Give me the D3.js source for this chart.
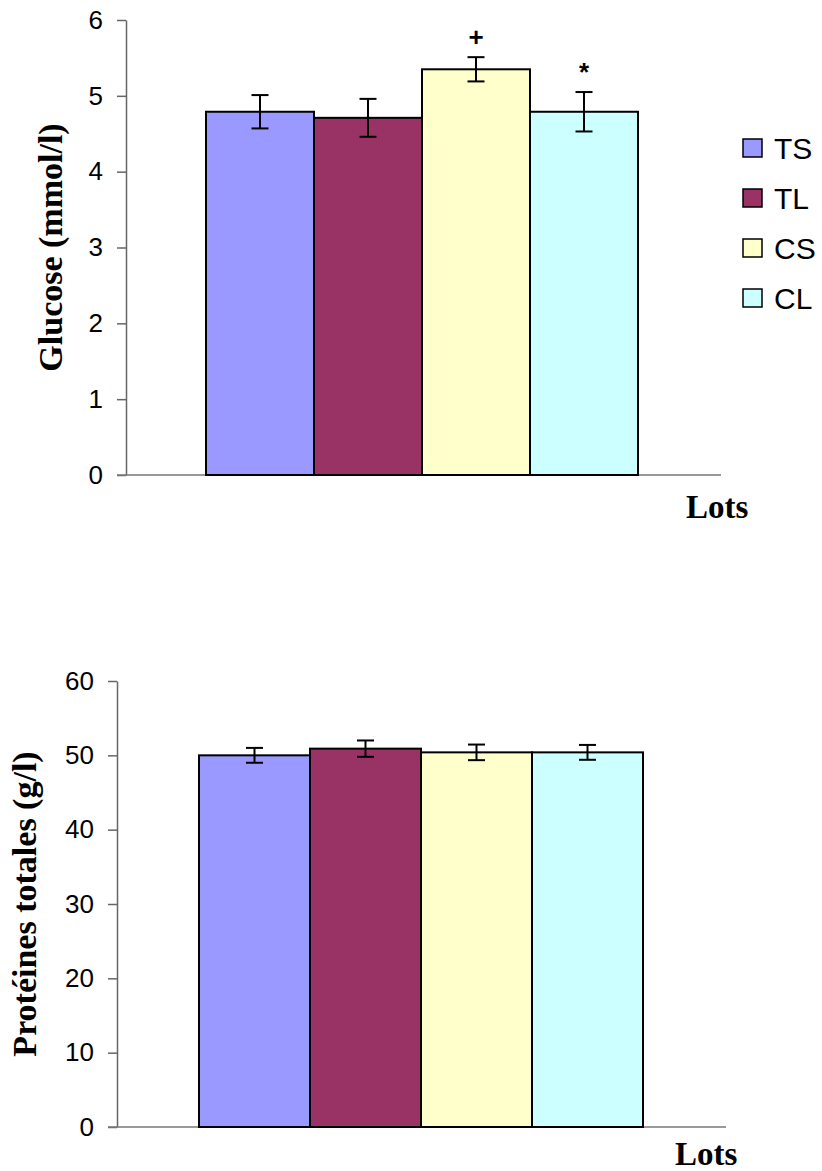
<!DOCTYPE html>
<html>
<head>
<meta charset="utf-8">
<script src="https://cdn.jsdelivr.net/npm/d3@7"></script>
<style>
  html, body { margin: 0; padding: 0; background: #fff; }
  .tick text { font-family: "Liberation Sans", Arial, sans-serif; }
</style>
</head>
<body>
<div id="chart"></div>
<script>
const lots = ["TS", "TL", "CS", "CL"];
const lotColors = ["#9999ff", "#993366", "#ffffcc", "#ccffff"];

const glucose = [4.79, 4.71, 5.35, 4.79];
const glucoseErr = [0.22, 0.25, 0.16, 0.26];
const glucoseSig = ["", "", "+", "*"];
const glucoseTicks = [0, 1, 2, 3, 4, 5, 6];

const proteins = [50.0, 50.9, 50.4, 50.4];
const proteinsErr = [1.0, 1.1, 1.05, 1.0];
const proteinsTicks = [0, 10, 20, 30, 40, 50, 60];

const svg = d3.select("#chart").append("svg")
    .attr("width", 822)
    .attr("height", 1171);

function drawChart(opt) {
    const g = svg.append("g");

    const x = d3.scaleBand()
        .domain(lots)
        .range([opt.barLeft, opt.barRight])
        .padding(0);

    const y = d3.scaleLinear()
        .domain([0, opt.max])
        .range([opt.bottom, opt.top]);

    // y axis
    const yAxis = g.append("g")
        .attr("transform", "translate(" + opt.left + ",0)")
        .call(d3.axisLeft(y).tickValues(opt.ticks).tickFormat(d3.format("d"))
            .tickSize(9).tickPadding(14).tickSizeOuter(0));
    yAxis.select(".domain").attr("stroke", "#666").attr("stroke-width", 1.5);
    yAxis.selectAll(".tick line").attr("stroke", "#666").attr("stroke-width", 1.5);
    yAxis.selectAll(".tick text")
        .attr("font-size", 26)
        .attr("fill", "#000");

    // x axis line
    g.append("line")
        .attr("x1", opt.left - 9)
        .attr("x2", opt.right)
        .attr("y1", y(0))
        .attr("y2", y(0))
        .attr("stroke", "#777")
        .attr("stroke-width", 1.5);

    // bars
    g.selectAll(".bar")
        .data(opt.values)
        .enter().append("rect")
        .attr("class", "bar")
        .attr("x", (d, i) => x(lots[i]))
        .attr("y", d => y(d))
        .attr("width", x.bandwidth())
        .attr("height", d => y(0) - y(d))
        .attr("fill", (d, i) => lotColors[i])
        .attr("stroke", "#000")
        .attr("stroke-width", 2);

    // error bars
    const eb = g.selectAll(".err")
        .data(opt.values)
        .enter().append("g")
        .attr("class", "err")
        .attr("stroke", "#000")
        .attr("stroke-width", 2);
    const cx = (i) => x(lots[i]) + x.bandwidth() / 2;
    eb.append("line")
        .attr("x1", (d, i) => cx(i)).attr("x2", (d, i) => cx(i))
        .attr("y1", (d, i) => y(d + opt.err[i]))
        .attr("y2", (d, i) => y(d - opt.err[i]));
    eb.append("line")
        .attr("x1", (d, i) => cx(i) - 8.5).attr("x2", (d, i) => cx(i) + 8.5)
        .attr("y1", (d, i) => y(d + opt.err[i]))
        .attr("y2", (d, i) => y(d + opt.err[i]));
    eb.append("line")
        .attr("x1", (d, i) => cx(i) - 8.5).attr("x2", (d, i) => cx(i) + 8.5)
        .attr("y1", (d, i) => y(d - opt.err[i]))
        .attr("y2", (d, i) => y(d - opt.err[i]));

    if (opt.sig) {
        g.selectAll(".sig")
            .data(opt.values)
            .enter().append("text")
            .attr("class", "sig")
            .attr("x", (d, i) => cx(i))
            .attr("y", (d, i) => y(d + opt.err[i]) - 11)
            .attr("text-anchor", "middle")
            .attr("font-family", "Liberation Sans, Arial, sans-serif")
            .attr("font-weight", "bold")
            .attr("font-size", 26)
            .text((d, i) => opt.sig[i]);
    }

    // axis titles
    g.append("text")
        .attr("transform", "translate(" + opt.titleX + "," + ((opt.top + opt.bottom) / 2) + ") rotate(-90)")
        .attr("text-anchor", "middle")
        .attr("font-family", "Liberation Serif, 'Times New Roman', serif")
        .attr("font-weight", "bold")
        .attr("font-size", 34)
        .text(opt.yTitle);

    g.append("text")
        .attr("x", opt.lotsX)
        .attr("y", opt.lotsY)
        .attr("font-family", "Liberation Serif, 'Times New Roman', serif")
        .attr("font-weight", "bold")
        .attr("font-size", 33)
        .text("Lots");
}

drawChart({
    values: glucose, err: glucoseErr, sig: glucoseSig, ticks: glucoseTicks, max: 6,
    left: 126, right: 721, top: 20, bottom: 475,
    barLeft: 206, barRight: 638,
    titleX: 62, yTitle: "Glucose (mmol/l)",
    lotsX: 686, lotsY: 518
});

drawChart({
    values: proteins, err: proteinsErr, sig: null, ticks: proteinsTicks, max: 60,
    left: 117, right: 726, top: 681, bottom: 1127,
    barLeft: 199, barRight: 643,
    titleX: 36, yTitle: "Protéines totales (g/l)",
    lotsX: 675, lotsY: 1165
});

// legend
const legend = svg.append("g").attr("transform", "translate(743,139)");
const item = legend.selectAll(".item")
    .data(lots)
    .enter().append("g")
    .attr("class", "item")
    .attr("transform", (d, i) => "translate(0," + i * 50 + ")");
item.append("rect")
    .attr("width", 19)
    .attr("height", 18)
    .attr("fill", (d, i) => lotColors[i])
    .attr("stroke", "#000")
    .attr("stroke-width", 1.5);
item.append("text")
    .attr("x", 31)
    .attr("y", 20)
    .attr("font-family", "Liberation Sans, Arial, sans-serif")
    .attr("font-size", 30)
    .text(d => d);
</script>
</body>
</html>
